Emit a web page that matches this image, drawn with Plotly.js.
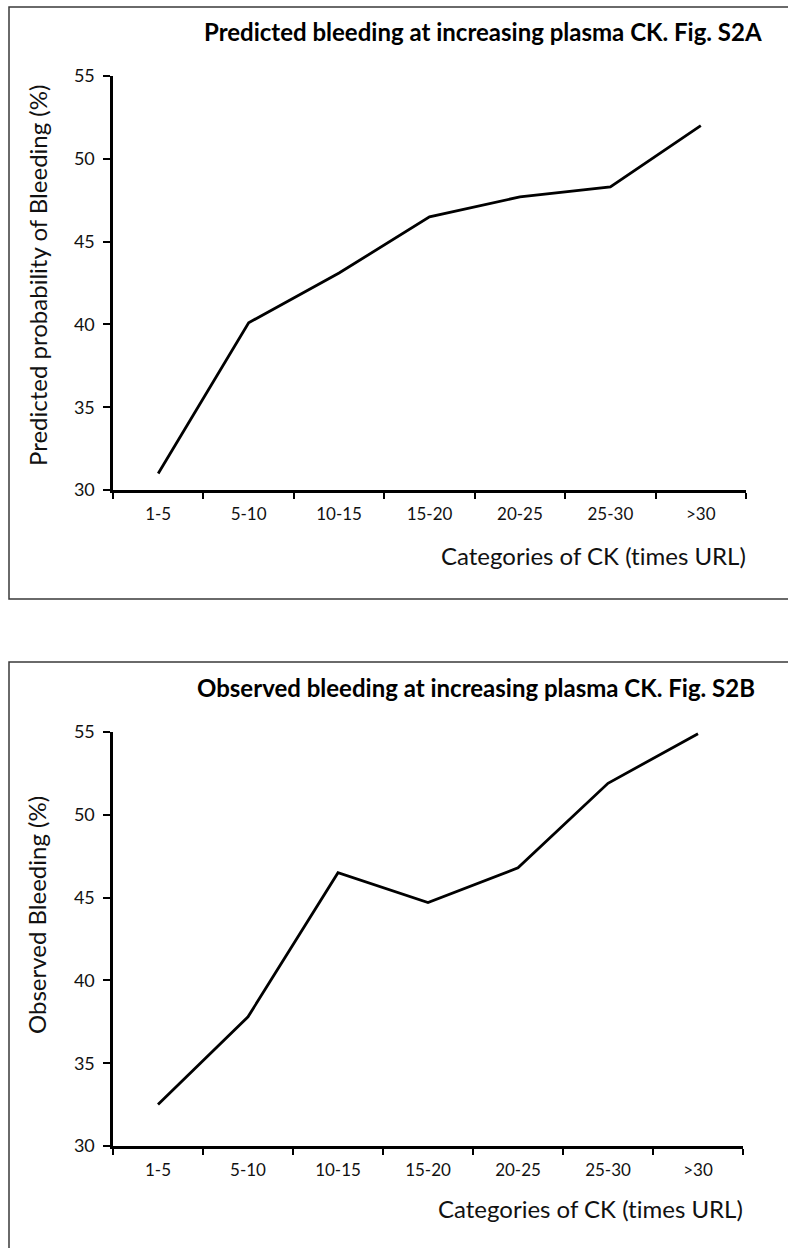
<!DOCTYPE html>
<html>
<head>
<meta charset="utf-8">
<script src="https://cdn.plot.ly/plotly-3.0.1.min.js"></script>
<style>html,body{margin:0;padding:0;background:#fff;}#chart{width:788px;height:1248px;} text{font-variant-ligatures:none;font-feature-settings:"liga" 0;}</style>
</head>
<body>
<div id="chart"></div>
<script>
const categories = ["1-5", "5-10", "10-15", "15-20", "20-25", "25-30", ">30"];
const predictedBleeding = [31.0, 40.1, 43.1, 46.5, 47.7, 48.3, 52.0];
const observedBleeding = [32.5, 37.8, 46.5, 44.7, 46.8, 51.9, 54.9];
const titleA = "Predicted bleeding at increasing plasma CK. Fig. S2A";
const titleB = "Observed bleeding at increasing plasma CK. Fig. S2B";
const yTitleA = "Predicted probability of Bleeding (%)";
const yTitleB = "Observed Bleeding (%)";
const xTitle = "Categories of CK (times URL)";

const W = 788, H = 1248;
const px = x => x / W;
const py = y => 1 - y / H;
const FONT = "Lato, 'Open Sans', sans-serif";

const traceStyle = {mode: "lines", line: {color: "#000", width: 2.8}, hoverinfo: "x+y", showlegend: false};

const data = [
  Object.assign({x: categories, y: predictedBleeding, xaxis: "x", yaxis: "y"}, traceStyle),
  Object.assign({x: categories, y: observedBleeding, xaxis: "x2", yaxis: "y2"}, traceStyle)
];

function xAxis(domain, anchor) {
  return {
    domain: domain, anchor: anchor, type: "category", range: [-0.5, 6.5],
    tickson: "boundaries", ticks: "outside", ticklen: 6, tickwidth: 2, tickcolor: "#000",
    showline: true, linecolor: "#000", linewidth: 2.6, showgrid: false, zeroline: false,
    tickfont: {family: FONT, size: 17, color: "#111"}, ticklabelstandoff: 7, fixedrange: true
  };
}
function yAxis(domain, anchor) {
  return {
    domain: domain, anchor: anchor, range: [30, 55], dtick: 5, tick0: 30,
    ticks: "outside", ticklen: 7, tickwidth: 2, tickcolor: "#000",
    showline: true, linecolor: "#000", linewidth: 2.6, showgrid: false, zeroline: false,
    tickfont: {family: FONT, size: 18, color: "#111"}, ticklabelstandoff: 5, fixedrange: true
  };
}

const boxLine = {color: "#3a3a3a", width: 1.5};
const layout = {
  width: W, height: H,
  margin: {l: 0, r: 0, t: 0, b: 0},
  paper_bgcolor: "#fff", plot_bgcolor: "#fff",
  xaxis: xAxis([px(113), px(746)], "y"),
  yaxis: yAxis([py(490), py(76)], "x"),
  xaxis2: xAxis([px(113), px(743)], "y2"),
  yaxis2: yAxis([py(1146), py(732)], "x2"),
  shapes: [
    {type: "rect", xref: "paper", yref: "paper", x0: px(9), x1: 1.05, y0: py(599), y1: py(7), line: boxLine, layer: "below"},
    {type: "rect", xref: "paper", yref: "paper", x0: px(9), x1: 1.05, y0: -0.05, y1: py(662), line: boxLine, layer: "below"}
  ],
  annotations: [
    {text: "<b>" + titleA + "</b>", xref: "paper", yref: "paper", x: px(483), y: py(31), xanchor: "center", yanchor: "middle", showarrow: false, font: {family: FONT, size: 24, color: "#000"}},
    {text: "<b>" + titleB + "</b>", xref: "paper", yref: "paper", x: px(476), y: py(687), xanchor: "center", yanchor: "middle", showarrow: false, font: {family: FONT, size: 24, color: "#000"}},
    {text: yTitleA, xref: "paper", yref: "paper", x: px(37), y: py(276), xanchor: "center", yanchor: "middle", textangle: -90, showarrow: false, font: {family: FONT, size: 24, color: "#111"}},
    {text: yTitleB, xref: "paper", yref: "paper", x: px(37), y: py(915), xanchor: "center", yanchor: "middle", textangle: -90, showarrow: false, font: {family: FONT, size: 24, color: "#111"}},
    {text: xTitle, xref: "paper", yref: "paper", x: px(748), y: py(555), xanchor: "right", yanchor: "middle", showarrow: false, font: {family: FONT, size: 24, color: "#111"}},
    {text: xTitle, xref: "paper", yref: "paper", x: px(745), y: py(1208), xanchor: "right", yanchor: "middle", showarrow: false, font: {family: FONT, size: 24, color: "#111"}}
  ]
};

Plotly.newPlot("chart", data, layout, {displayModeBar: false, staticPlot: true});
</script>
</body>
</html>
